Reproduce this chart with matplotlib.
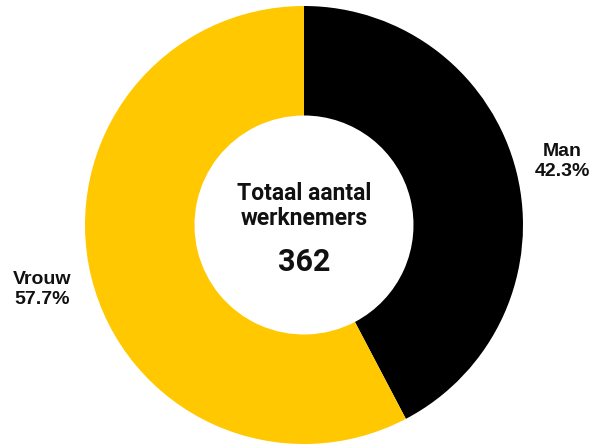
import numpy as np
import matplotlib
matplotlib.use("Agg")
import matplotlib.pyplot as plt

# --- data ---
categories = ["Man", "Vrouw"]
shares = [42.3, 57.7]
total_label = "Totaal aantal\nwerknemers"
total_value = "362"
colors = ["#000000", "#FFC800"]

# --- figure: 594x444 px, one data unit = outer radius ---
W, H = 594, 444
cx, cy, R = 304, 225, 219
fig = plt.figure(figsize=(W / 100, H / 100), dpi=100)
ax = fig.add_axes([0, 0, 1, 1])
ax.axis("off")

wedges, _ = ax.pie(shares, colors=colors, startangle=90, counterclock=False,
                   radius=1.0, wedgeprops=dict(width=0.5, linewidth=0))
ax.set_xlim(-cx / R, (W - cx) / R)
ax.set_ylim(-(H - cy) / R, cy / R)
ax.set_aspect("auto")

# outer labels at mid angle of each wedge
label_r = [1.215, 1.23]
for w, name, val, r in zip(wedges, categories, shares, label_r):
    mid = np.deg2rad((w.theta1 + w.theta2) / 2)
    ax.text(r * np.cos(mid), r * np.sin(mid), f"{name}\n{val}%",
            ha="center", va="center", fontsize=14, fontweight="bold",
            family="Liberation Sans", color="#111111", linespacing=1.2)

# centre text
ax.text(0, 0.085, total_label, ha="center", va="center", fontsize=16.5,
        fontweight="bold", family="Roboto", color="#111111", linespacing=1.1)
ax.text(0, -0.17, total_value, ha="center", va="center", fontsize=22,
        fontweight="bold", family="Roboto", color="#111111")

fig.savefig("out.png", dpi=100)
